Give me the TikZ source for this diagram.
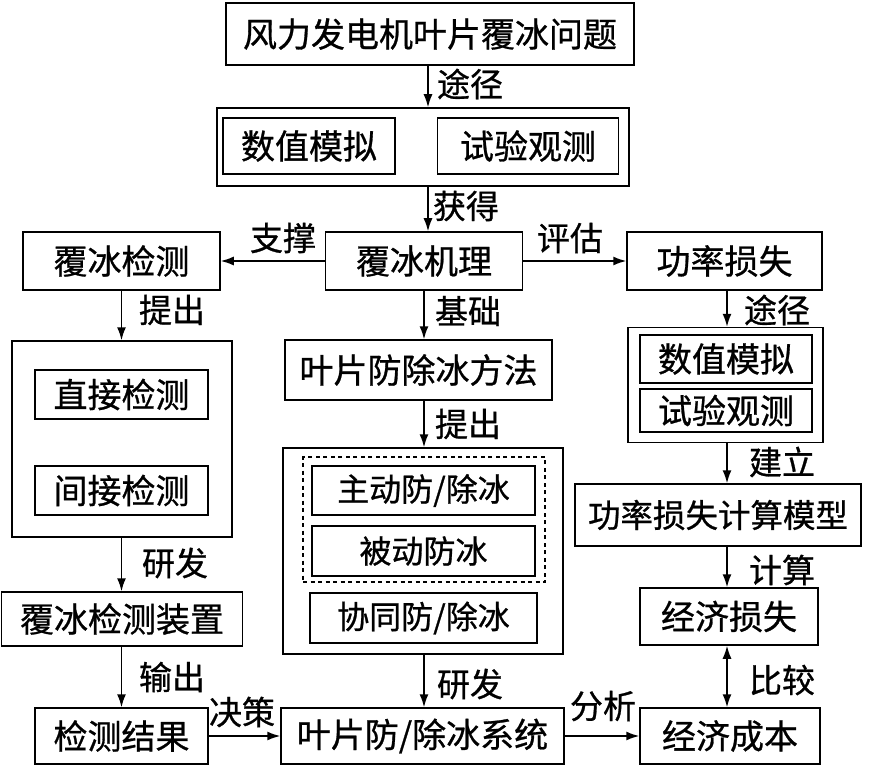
\documentclass[tikz,border=0pt]{standalone}
\usepackage{fontspec}
\newfontfamily\cjk[FakeBold=0.8]{Noto Sans CJK SC}
\usetikzlibrary{arrows.meta}
\tikzset{
  box/.style={draw, line width=1.5pt, inner sep=0pt, font=\cjk\fontsize{34}{34}\selectfont},
  sbox/.style={draw, line width=1.5pt, inner sep=0pt, font=\cjk\fontsize{32}{32}\selectfont},
  frame/.style={draw, line width=1.5pt, inner sep=0pt},
  lab/.style={font=\cjk\fontsize{33}{33}\selectfont, inner sep=0pt},
  arr/.style={line width=1.5pt, -{Latex[length=13pt,width=9pt]}},
  darr/.style={line width=1.5pt, {Latex[length=13pt,width=9pt]}-{Latex[length=13pt,width=9pt]}},
}
\begin{document}
\begin{tikzpicture}[x=1pt,y=-1pt]
\useasboundingbox (0,0) rectangle (879,765);
% top
\node[box, minimum width=408pt, minimum height=62pt] (top) at (430,34) {风力发电机叶片覆冰问题};
\node[frame, minimum width=412pt, minimum height=78pt] (simo) at (423,147) {};
\node[box, minimum width=172pt, minimum height=56pt] (sim1) at (309,146) {数值模拟};
\node[box, minimum width=181pt, minimum height=56pt] (sim2) at (528,146) {试验观测};
\node[box, minimum width=197pt, minimum height=58pt] (mech) at (424,261) {覆冰机理};
\node[box, minimum width=197pt, minimum height=58pt] (det) at (121.5,261) {覆冰检测};
\node[box, minimum width=195pt, minimum height=58pt] (pl) at (724.5,261) {功率损失};
% middle column
\node[box, minimum width=267pt, minimum height=60pt] (meth) at (418.5,370) {叶片防除冰方法};
\node[frame, minimum width=280pt, minimum height=206pt] (metho) at (423,551) {};
\node[draw, line width=1.3pt, dash pattern=on 4pt off 3.5pt, minimum width=242pt, minimum height=125pt, inner sep=0pt] (dot) at (424,519.5) {};
\node[sbox, minimum width=223pt, minimum height=49pt] (a1) at (423.5,490.5) {主动防/除冰};
\node[sbox, minimum width=223pt, minimum height=50pt] (a2) at (423.5,551) {被动防冰};
\node[sbox, minimum width=227pt, minimum height=50pt] (a3) at (423.5,618) {协同防/除冰};
% left column
\node[frame, minimum width=220pt, minimum height=196pt] (deto) at (122,439) {};
\node[box, minimum width=173pt, minimum height=49pt] (d1) at (121.5,394.5) {直接检测};
\node[box, minimum width=173pt, minimum height=49pt] (d2) at (121.5,490.5) {间接检测};
\node[box, minimum width=241pt, minimum height=54pt] (dev) at (122,619) {覆冰检测装置};
\node[box, minimum width=173pt, minimum height=56pt] (res) at (121.5,736) {检测结果};
% right column
\node[frame, minimum width=195pt, minimum height=115pt] (plo) at (725.5,385) {};
\node[box, minimum width=172pt, minimum height=48pt] (p1) at (726,359) {数值模拟};
\node[box, minimum width=172pt, minimum height=43pt] (p2) at (726,410.5) {试验观测};
\node[box, minimum width=286pt, minimum height=62pt, font=\cjk\fontsize{32.5}{32.5}\selectfont] (model) at (718,515) {功率损失计算模型};
\node[box, minimum width=178pt, minimum height=57pt] (loss) at (729,616.5) {经济损失};
% bottom
\node[box, minimum width=283pt, minimum height=56pt] (sys) at (422.5,736) {叶片防/除冰系统};
\node[box, minimum width=180pt, minimum height=56pt] (cost) at (730,736) {经济成本};
% connectors
\coordinate (cx) at (428,0);
\draw[arr] (top.south -| cx) -- (simo.north -| cx);
\draw[arr] (simo.south -| cx) -- (mech.north -| cx);
\draw[arr] (mech.west) -- (det.east);
\draw[arr] (mech.east) -- (pl.west);
\coordinate (mx) at (424,0);
\draw[arr] (mech.south -| mx) -- (meth.north -| mx);
\draw[arr] (meth.south -| mx) -- (metho.north -| mx);
\draw[arr] (metho.south -| mx) -- (sys.north -| mx);
\coordinate (lx) at (121.5,0);
\draw[arr] (det.south -| lx) -- (deto.north -| lx);
\draw[arr] (deto.south -| lx) -- (dev.north -| lx);
\draw[arr] (dev.south -| lx) -- (res.north -| lx);
\coordinate (rx) at (727,0);
\draw[arr] (pl.south -| rx) -- (plo.north -| rx);
\draw[arr] (plo.south -| rx) -- (model.north -| rx);
\draw[arr] (model.south -| rx) -- (loss.north -| rx);
\draw[darr] (loss.south -| rx) -- (cost.north -| rx);
\draw[arr] (res.east) -- (sys.west);
\draw[arr] (sys.east) -- (cost.west);
% labels
\node[lab] (l1) at (470,84) {途径};
\node[lab] (l2) at (466,206) {获得};
\node[lab] (l3) at (283,238) {支撑};
\node[lab] (l4) at (570,238) {评估};
\node[lab] (l5) at (468,311) {基础};
\node[lab] (l6) at (468,424) {提出};
\node[lab] (l7) at (172,310) {提出};
\node[lab] (l8) at (777,310) {途径};
\node[lab] (l9) at (782,462) {建立};
\node[lab] (l10) at (782,570) {计算};
\node[lab] (l11) at (782,680) {比较};
\node[lab] (l12) at (175,563) {研发};
\node[lab] (l13) at (172,677) {输出};
\node[lab] (l14) at (470,684) {研发};
\node[lab] (l15) at (242,712) {决策};
\node[lab] (l16) at (603,706) {分析};
\end{tikzpicture}
\end{document}
